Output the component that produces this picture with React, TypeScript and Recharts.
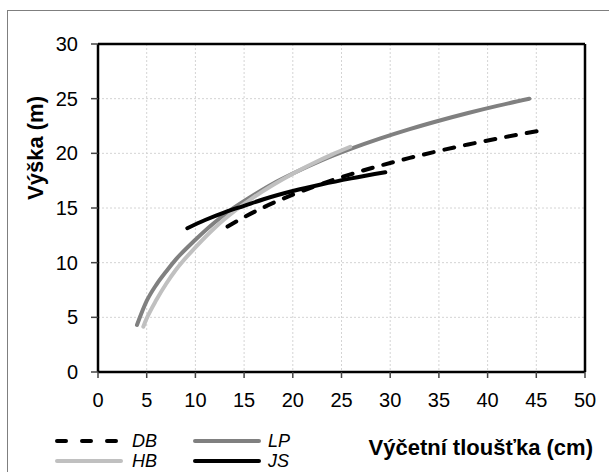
import React from 'react';
import { LineChart, Line, XAxis, YAxis, CartesianGrid, Legend, Label, ReferenceLine } from 'recharts';

// Diameter (cm) / height (m) readings for each species curve
const lpX = [4, 5, 6, 7, 8, 10, 12, 14, 16, 18, 20, 23, 26, 29, 32, 35, 38, 41, 44.3];
const lpY = [4.3, 6.5, 8.0, 9.2, 10.3, 12.1, 13.7, 15.05, 16.2, 17.25, 18.15, 19.37, 20.42, 21.36, 22.21, 22.98, 23.69, 24.34, 25.0];

const hbX = [4.65, 5, 6, 7, 8, 10, 12, 14, 16, 18, 20, 22, 24, 25.9];
const hbY = [4.15, 4.9, 6.6, 8.07, 9.35, 11.4, 13.2, 14.7, 15.99, 17.12, 18.13, 19.04, 19.88, 20.6];

const jsX = [9.17, 11, 13, 15, 17, 20, 23, 26, 29.5];
const jsY = [13.15, 13.9, 14.6, 15.2, 15.8, 16.55, 17.17, 17.71, 18.27];

const dbX = [13.3, 15, 17, 20, 23, 26, 29, 32, 35, 38, 41, 45.5];
const dbY = [13.3, 14.16, 15.06, 16.22, 17.22, 18.1, 18.88, 19.58, 20.22, 20.81, 21.35, 22.1];

const xTicks = [0, 5, 10, 15, 20, 25, 30, 35, 40, 45, 50];
const yTicks = [0, 5, 10, 15, 20, 25, 30];

const seriesNames = ['DB', 'LP', 'HB', 'JS'];

const toData = (xs: number[], ys: number[]) => xs.map((x, i) => ({ x, y: ys[i] }));
const lpData = toData(lpX, lpY);
const hbData = toData(hbX, hbY);
const jsData = toData(jsX, jsY);
const dbData = toData(dbX, dbY);

const FONT = '"Liberation Sans", Arial, sans-serif';

const LegendContent = () => {
  const items = [
    { name: seriesNames[0], color: '#000000', dash: '9 16', x: 55, y: 21 },
    { name: seriesNames[1], color: '#808080', dash: undefined, x: 193, y: 21 },
    { name: seriesNames[2], color: '#c0c0c0', dash: undefined, x: 55, y: 41 },
    { name: seriesNames[3], color: '#000000', dash: undefined, x: 193, y: 41 },
  ];
  return (
    <svg width={300} height={52} style={{ display: 'block' }}>
      {items.map((it) => (
        <g key={it.name}>
          <line
            x1={it.x + 2}
            x2={it.x + 66}
            y1={it.y}
            y2={it.y}
            stroke={it.color}
            strokeWidth={4}
            strokeDasharray={it.dash}
            strokeLinecap="round"
          />
          <text
            x={it.x + (it.x < 100 ? 77 : 75)}
            y={it.y}
            dominantBaseline="central"
            fontFamily={FONT}
            fontStyle="italic"
            fontSize={18}
            fill="#000"
          >
            {it.name}
          </text>
        </g>
      ))}
    </svg>
  );
};

export default function App() {
  return (
    <div style={{ position: 'fixed', left: 0, top: 0, width: 609, height: 472, overflow: 'hidden', background: '#fff' }}>
      <div
        style={{
          position: 'absolute',
          left: 7,
          top: 10,
          width: 700,
          height: 600,
          border: '1px solid #7f7f7f',
        }}
      />
      <div style={{ position: 'absolute', left: 0, top: 0 }}>
        <LineChart width={609} height={472} margin={{ top: 44, right: 24, left: 0, bottom: 0 }}>
          <CartesianGrid stroke="#d4d4d4" strokeDasharray="2 2" strokeWidth={1} />
          <XAxis
            dataKey="x"
            type="number"
            domain={[0, 50]}
            ticks={xTicks}
            interval={0}
            allowDataOverflow
            height={100}
            axisLine={{ stroke: '#000', strokeWidth: 2.5 }}
            tickLine={{ stroke: '#444', strokeWidth: 1.5 }}
            tickSize={6}
            tickMargin={15}
            tick={{ fill: '#000', fontSize: 20, fontFamily: FONT }}
          />
          <YAxis
            type="number"
            domain={[0, 30]}
            ticks={yTicks}
            interval={0}
            width={98}
            axisLine={{ stroke: '#000', strokeWidth: 2.5 }}
            tickLine={{ stroke: '#444', strokeWidth: 1.5 }}
            tickSize={7}
            tickMargin={13}
            tick={{ fill: '#000', fontSize: 20, fontFamily: FONT }}
          >
            <Label
              content={() => (
                <text
                  x={43}
                  y={148}
                  transform="rotate(-90, 43, 148)"
                  textAnchor="middle"
                  fontFamily={FONT}
                  fontWeight="bold"
                  fontSize={22}
                  fill="#000"
                >
                  Výška (m)
                </text>
              )}
            />
          </YAxis>
          <ReferenceLine y={30} stroke="#000" strokeWidth={2.5} />
          <ReferenceLine x={50} stroke="#000" strokeWidth={2.5} />
          <Line data={lpData} dataKey="y" name="LP" type="monotone" stroke="#808080" strokeWidth={4} dot={false} activeDot={false} isAnimationActive={false} strokeLinecap="round" />
          <Line data={hbData} dataKey="y" name="HB" type="monotone" stroke="#c0c0c0" strokeWidth={4} dot={false} activeDot={false} isAnimationActive={false} strokeLinecap="round" />
          <Line data={jsData} dataKey="y" name="JS" type="monotone" stroke="#000000" strokeWidth={4} dot={false} activeDot={false} isAnimationActive={false} strokeLinecap="round" />
          <Line data={dbData} dataKey="y" name="DB" type="monotone" stroke="#000000" strokeWidth={4} strokeDasharray="10 11" dot={false} activeDot={false} isAnimationActive={false} strokeLinecap="round" />
          <Legend
            layout="horizontal"
            verticalAlign="middle"
            align="center"
            wrapperStyle={{ position: 'absolute', left: 0, top: 420, width: 300, height: 52 }}
            content={() => <LegendContent />}
          />
          <text
            x={593}
            y={455}
            textAnchor="end"
            fontFamily={FONT}
            fontWeight="bold"
            fontSize={22}
            fill="#000"
          >
            Výčetní tloušťka (cm)
          </text>
        </LineChart>
      </div>
    </div>
  );
}
